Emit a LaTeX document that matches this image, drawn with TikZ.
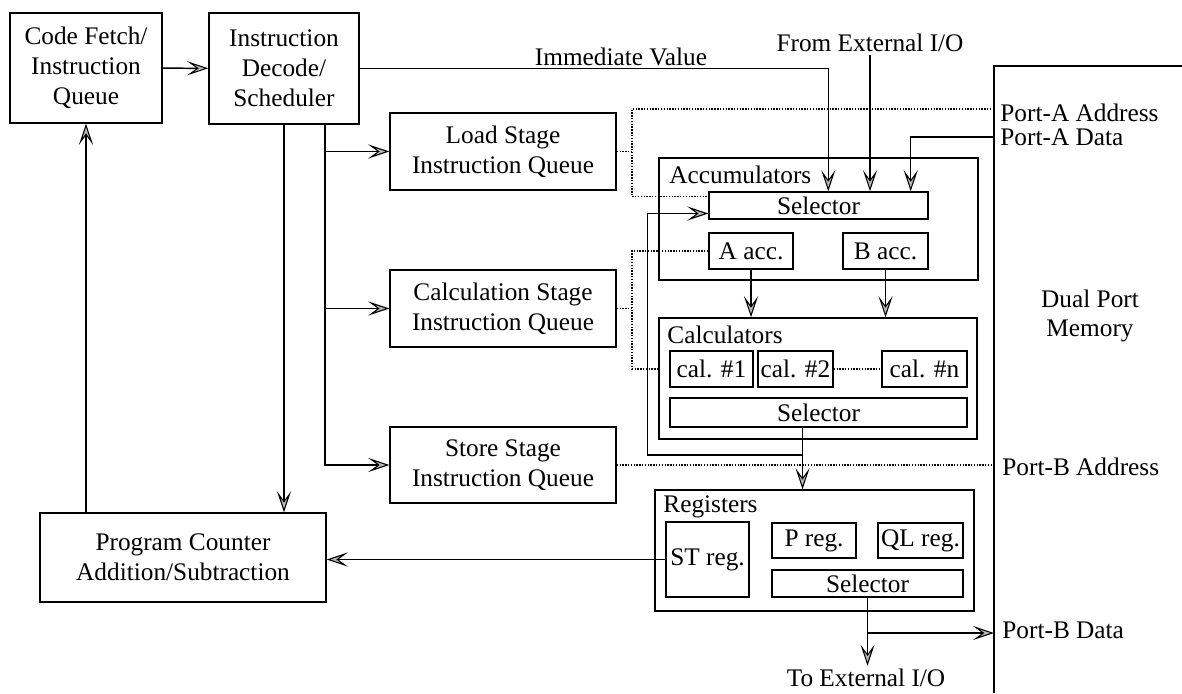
\documentclass[tikz,border=0pt]{standalone}
\usepackage{fontspec}
\setmainfont{Liberation Serif}
\usetikzlibrary{arrows.meta}

\begin{document}
\begin{tikzpicture}[x=0.02cm, y=-0.02cm,
    font=\fontsize{14.4}{17}\selectfont,
    line width=0.85pt,
    box/.style={draw, inner sep=0pt, align=center},
    arr/.style={-{Stealth[length=12pt, width=8pt, inset=5.5pt, fill=gray!55, line width=0.6pt]}},
    sig/.style={line width=0.6pt, dash pattern=on 0.8pt off 0.8pt},
    lbl/.style={inner sep=1.5pt, anchor=west},
    txt/.style={inner sep=1.5pt}]
  \useasboundingbox (0,0) rectangle (1182,693);

  % control part
  \node[box, minimum width=3.04cm, minimum height=2.2cm] (fetch) at (86,68) {Code Fetch/\\Instruction\\Queue};
  \node[box, minimum width=3.0cm, minimum height=2.22cm] (decode) at (284,68.5) {Instruction\\Decode/\\Scheduler};
  \node[box, minimum width=5.72cm, minimum height=1.78cm] (pc) at (183,557.5) {Program Counter\\Addition/Subtraction};
  \node[box, minimum width=4.52cm, minimum height=1.54cm] (load) at (503,151.5) {Load Stage\\Instruction Queue};
  \node[box, minimum width=4.52cm, minimum height=1.54cm] (calc) at (503,308.5) {Calculation Stage\\Instruction Queue};
  \node[box, minimum width=4.52cm, minimum height=1.52cm] (store) at (503,465) {Store Stage\\Instruction Queue};

  % accumulators
  \node[box, minimum width=6.38cm, minimum height=2.44cm] (accum) at (818.5,219) {};
  \node[lbl] (acctitle) at (666,175) {Accumulators};
  \node[box, minimum width=4.38cm, minimum height=0.54cm] (accsel) at (818.5,205.5) {Selector};
  \node[box, minimum width=1.68cm, minimum height=0.72cm] (acca) at (751,251) {A acc.};
  \node[box, minimum width=1.7cm, minimum height=0.72cm] (accb) at (885.5,251) {B acc.};

  % calculators
  \node[box, minimum width=6.36cm, minimum height=2.42cm] (calcs) at (818,378.5) {};
  \node[lbl] (caltitle) at (664,335) {Calculators};
  \node[box, minimum width=1.66cm, minimum height=0.72cm] (cal1) at (711.5,369) {cal. \#1};
  \node[box, minimum width=1.5cm, minimum height=0.72cm] (cal2) at (795.5,369) {cal. \#2};
  \node[box, minimum width=1.7cm, minimum height=0.72cm] (caln) at (924.5,369) {cal. \#n};
  \node[box, minimum width=5.94cm, minimum height=0.58cm] (calsel) at (818.5,412.5) {Selector};

  % registers
  \node[box, minimum width=6.38cm, minimum height=2.42cm] (regs) at (814.5,550.5) {};
  \node[lbl] (regtitle) at (660,507) {Registers};
  \node[box, minimum width=1.66cm, minimum height=1.5cm] (streg) at (707.5,559.5) {ST reg.};
  \node[box, minimum width=1.68cm, minimum height=0.7cm] (preg) at (814,540.5) {P reg.};
  \node[box, minimum width=1.7cm, minimum height=0.7cm] (qlreg) at (920.5,540.5) {QL reg.};
  \node[box, minimum width=3.82cm, minimum height=0.54cm] (regsel) at (867.5,583.5) {Selector};

  % dual port memory
  \coordinate (memtop) at (994,66);
  \coordinate (paaddr) at (994,109);
  \coordinate (padata) at (994,137);
  \coordinate (pbaddr) at (994,465);
  \coordinate (pbdata) at (994,633);
  \draw (994,693) -- (memtop) -- (1182,66);
  \node[lbl] (paaddrlbl) at (997,113) {Port-A Address};
  \node[lbl] (padatalbl) at (997,137) {Port-A Data};
  \node[lbl] (pbaddrlbl) at (999,467) {Port-B Address};
  \node[lbl] (pbdatalbl) at (999,630) {Port-B Data};
  \node[txt, align=center] (mem) at (1090,316) {Dual Port\\Memory};

  \node[txt] (immlbl) at (621,57) {Immediate Value};
  \node[txt] (extin) at (870,43) {From External I/O};
  \node[txt] (extout) at (866,678) {To External I/O};

  \coordinate (abus) at (632,0);
  \coordinate (bus) at ([xshift=0.82cm]decode.south);
  \coordinate (selin) at ([yshift=0.18cm]accsel.west);
  \coordinate (selfb) at ([yshift=-0.16cm]accsel.west);
  \coordinate (calout) at ([xshift=-0.32cm]calsel.south);
  \coordinate (fbrow) at (0,455);

  % control flow
  \draw[arr] (fetch) -- (decode);
  \draw[arr] (decode.south) -- (pc.north -| decode.south);
  \draw[arr] (pc.north -| fetch.south) -- (fetch.south);
  \draw[arr] (bus) |- (load.west);
  \draw[arr] (bus) |- (calc.west);
  \draw[arr] (bus) |- (store.west);
  \draw[arr] (streg.west) -- (pc.east |- streg.west);

  % data into accumulators
  \draw[arr] (decode.east) -| ([xshift=2.4cm]accsel.north west);
  \draw[arr] (extin.south) -- (accsel.north -| extin.south);
  \draw[arr] (padata) -| ([xshift=-0.36cm]accsel.north east);
  \draw[arr] (acca.south) -- (calcs.north -| acca.south);
  \draw[arr] (accb.south) -- (calcs.north -| accb.south);
  \draw[arr] (calout) -- (regs.north -| calout);
  \draw[arr] (calout |- fbrow) -| ([xshift=-1.22cm]selfb) -- (selfb);
  \draw[arr] (regsel.south) -- (extout.north -| regsel.south);
  \draw[arr] (regsel.south |- pbdata) -- (pbdata);

  % control signals
  \draw[sig] (load.east) -- (load.east -| abus);
  \draw[sig] (paaddr) -| (selin -| abus) -- (selin);
  \draw[sig] (calc.east) -- (calc.east -| abus);
  \draw[sig] (acca.west) -| (cal1.west -| abus) -- (cal1.west -| calcs.west);
  \draw[sig] (cal2) -- (caln);
  \draw[sig] (store.east) -- (pbaddr);
\end{tikzpicture}
\end{document}
